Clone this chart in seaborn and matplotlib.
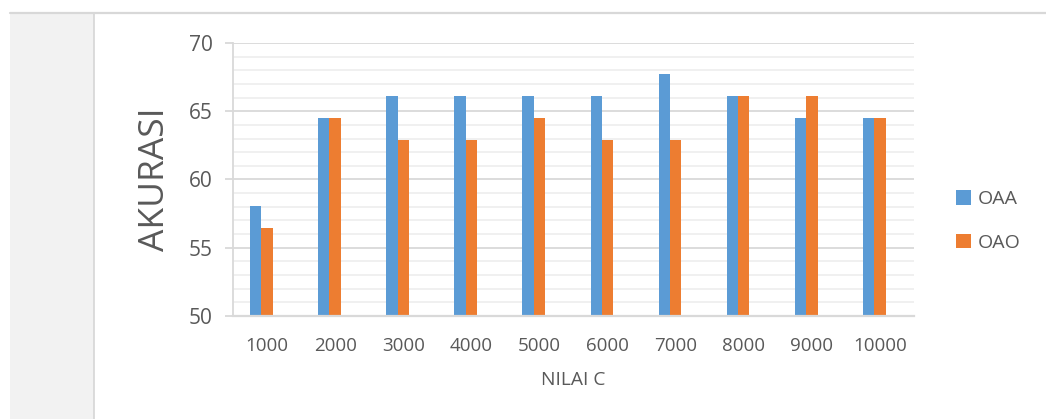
import pandas as pd
import seaborn as sns
from matplotlib import pyplot as plt
from matplotlib.patches import Patch, Rectangle
from matplotlib.lines import Line2D
from matplotlib.ticker import MultipleLocator

# data
c_values = ["1000", "2000", "3000", "4000", "5000", "6000", "7000", "8000", "9000", "10000"]
oaa = [58.06, 64.52, 66.13, 66.13, 66.13, 66.13, 67.74, 66.13, 64.52, 64.52]
oao = [56.45, 64.52, 62.90, 62.90, 64.52, 62.90, 62.90, 66.13, 66.13, 64.52]
methods = ["OAA", "OAO"]
colors = ["#5b9bd5", "#ed7d31"]
text_gray = "#595959"
grid_gray = "#d9d9d9"

df = pd.DataFrame({
    "Nilai C": c_values * 2,
    "Akurasi": oaa + oao,
    "Metode": [methods[0]] * len(c_values) + [methods[1]] * len(c_values),
})

sns.set_style("white")
plt.rcParams['font.family'] = ['Open Sans', 'DejaVu Sans']

W, H = 1046, 419
fig = plt.figure(figsize=(W / 100, H / 100), dpi=100)

# screenshot frame: grey side panel and top border
fig.patches.append(Rectangle((10 / W, 0), 84 / W, 405 / H, transform=fig.transFigure,
                             facecolor="#f2f2f2", edgecolor="none", zorder=0))
fig.lines.append(Line2D([94 / W, 94 / W], [0, 405 / H], transform=fig.transFigure,
                        color="#d6d6d6", lw=1.2))
fig.lines.append(Line2D([10 / W, 1], [1 - 13 / H, 1 - 13 / H], transform=fig.transFigure,
                        color="#d8d8d8", lw=1.6))

ax = fig.add_axes([233 / W, 1 - 316 / H, 681 / W, 273 / H])
# the original excel chart keeps an empty third slot in each cluster
pal = {methods[0]: colors[0], methods[1]: colors[1], " ": "white"}
sns.barplot(data=df, x="Nilai C", y="Akurasi", hue="Metode", hue_order=methods + [" "],
            palette=pal, width=0.5, ax=ax, legend=False, saturation=1, linewidth=0)

ax.set_ylim(50, 70)
ax.yaxis.set_major_locator(MultipleLocator(5))
ax.yaxis.set_minor_locator(MultipleLocator(1))
ax.set_axisbelow(True)
ax.grid(which="major", axis="y", color=grid_gray, lw=1.3)
ax.grid(which="minor", axis="y", color="#efefef", lw=1.3)

for s in ["top", "right"]:
    ax.spines[s].set_visible(False)
ax.spines["left"].set_color(grid_gray)
ax.spines["left"].set_linewidth(1.3)
ax.spines["bottom"].set_color(grid_gray)
ax.spines["bottom"].set_linewidth(1.6)

ax.tick_params(axis="y", which="major", left=True, length=5.8, width=1.3, color=grid_gray,
               pad=9, labelsize=15, labelcolor=text_gray)
ax.tick_params(axis="y", which="minor", left=False, length=0)
ax.tick_params(axis="x", length=0, pad=15, labelsize=13.5, labelcolor=text_gray)

ax.set_ylabel("AKURASI", fontsize=25.5, color=text_gray, va="center")
ax.yaxis.set_label_coords(-0.1145, 0.5)
ax.set_xlabel("NILAI C", fontsize=13.8, color=text_gray, va="center")
ax.xaxis.set_label_coords(0.5, -0.234)

handles = [Patch(facecolor=c, edgecolor="none") for c in colors]
ax.legend(handles, methods, loc="center left", bbox_to_anchor=(956 / W, 1 - 221 / H),
          bbox_transform=fig.transFigure, frameon=False, borderpad=0, borderaxespad=0,
          handlelength=0.75, handleheight=0.75, handletextpad=0.35, labelspacing=1.3,
          prop={"size": 14}, labelcolor=text_gray)

fig.savefig("out.png", dpi=100)
